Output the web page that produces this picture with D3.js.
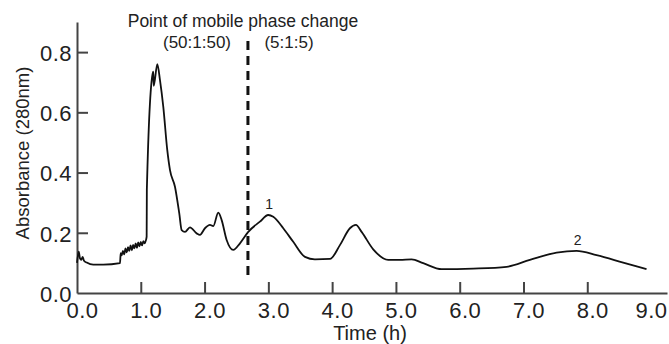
<!DOCTYPE html>
<html>
<head>
<meta charset="utf-8">
<script src="https://cdn.jsdelivr.net/npm/d3@7"></script>
<style>
  body { margin: 0; background: #fff; }
  text { font-family: "Liberation Sans", Arial, Helvetica, sans-serif; fill: #222; }
</style>
</head>
<body>
<div id="root"></div>
<script>
const SVG_WIDTH = 669;
const SVG_HEIGHT = 344;

// chromatogram trace, time (h) vs absorbance
const timeH = [
  0.00, 0.027, 0.047, 0.067, 0.089, 0.110, 0.152, 0.255, 0.412, 0.674,
  0.685, 0.70, 0.72, 0.74, 0.76, 0.78, 0.80, 0.82, 0.84, 0.86,
  0.88, 0.90, 0.92, 0.94, 0.96, 0.98, 1.00, 1.02, 1.04, 1.06,
  1.08, 1.092, 1.095, 1.187, 1.196, 1.203, 1.259, 1.301, 1.353, 1.415,
  1.458, 1.536, 1.603, 1.641, 1.693, 1.771, 1.876, 1.928, 2.006, 2.085,
  2.136, 2.215, 2.268, 2.346, 2.450, 2.555, 2.685, 2.868, 2.998, 3.077,
  3.234, 3.390, 3.574, 3.730, 3.966, 4.122, 4.279, 4.373, 4.462, 4.644,
  4.879, 5.063, 5.246, 5.428, 5.716, 6.212, 6.735, 7.100, 7.519, 7.832,
  8.146, 8.563, 8.929
];
const absorbance = [
  0.100, 0.137, 0.115, 0.110, 0.120, 0.107, 0.101, 0.094, 0.094, 0.099,
  0.132, 0.125, 0.140, 0.128, 0.148, 0.135, 0.152, 0.140, 0.158, 0.142,
  0.160, 0.148, 0.165, 0.150, 0.168, 0.155, 0.170, 0.158, 0.172, 0.165,
  0.175, 0.187, 0.342, 0.729, 0.735, 0.688, 0.760, 0.707, 0.618, 0.475,
  0.408, 0.353, 0.265, 0.209, 0.203, 0.218, 0.198, 0.193, 0.215, 0.226,
  0.222, 0.267, 0.242, 0.176, 0.143, 0.165, 0.203, 0.237, 0.259, 0.253,
  0.215, 0.170, 0.120, 0.112, 0.113, 0.159, 0.215, 0.226, 0.203, 0.145,
  0.110, 0.110, 0.112, 0.099, 0.079, 0.081, 0.087, 0.110, 0.134, 0.140,
  0.126, 0.101, 0.079
];

const xTicks = [0, 1, 2, 3, 4, 5, 6, 7, 8, 9];
const yTicks = [0, 0.2, 0.4, 0.6, 0.8];
const phaseChangeTime = 2.68;
const peakLabels = ['1', '2'];
const peakTimes = [2.998, 7.832];
const peakValues = [0.259, 0.140];

function addSvg() {
  const svg = document.createElementNS('http://www.w3.org/2000/svg', 'svg');
  svg.id = 'svg';
  svg.setAttribute('width', SVG_WIDTH);
  svg.setAttribute('height', SVG_HEIGHT);
  return svg;
}

function main() {
  const svg = d3.select('#svg');
  const xScale = d3.scaleLinear().domain([0, 9.25]).range([77, 667]);
  const yScale = d3.scaleLinear().domain([0, 0.9]).range([293, 22]);

  // x axis: labels 0..9, inward ticks only 1..8
  const gx = svg.append('g')
    .attr('transform', `translate(0,${yScale(0)})`)
    .call(d3.axisBottom(xScale).tickValues(xTicks).tickFormat(d3.format('.1f'))
      .tickSizeInner(-11).tickSizeOuter(0).tickPadding(9));
  gx.select('.domain').attr('stroke', '#444').attr('stroke-width', 2);
  gx.selectAll('.tick line').attr('stroke', '#444').attr('stroke-width', 2)
    .attr('display', (d) => (d === 0 || d === 9 ? 'none' : null));
  gx.selectAll('.tick text').attr('font-size', 22)
    .attr('dx', (d) => (d === 9 ? 0 : 5))
    .attr('letter-spacing', 0.5).style('font-family', '"Liberation Sans", Arial, sans-serif');

  // y axis
  const gy = svg.append('g')
    .attr('transform', `translate(${xScale(0)},0)`)
    .call(d3.axisLeft(yScale).tickValues(yTicks).tickFormat(d3.format('.1f'))
      .tickSizeInner(-11).tickSizeOuter(0).tickPadding(5));
  gy.select('.domain').attr('stroke', '#444').attr('stroke-width', 2);
  gy.selectAll('.tick line').attr('stroke', '#444').attr('stroke-width', 2)
    .attr('display', (d) => (d === 0 ? 'none' : null));
  gy.selectAll('.tick text').attr('font-size', 22).attr('dy', '0.38em')
    .attr('letter-spacing', 0.5).style('font-family', '"Liberation Sans", Arial, sans-serif');

  // axis titles
  svg.append('text')
    .attr('x', 370).attr('y', 340)
    .attr('text-anchor', 'middle')
    .attr('font-size', 20)
    .text('Time (h)');
  svg.append('text')
    .attr('transform', `translate(29,${153}) rotate(-90)`)
    .attr('text-anchor', 'middle')
    .attr('font-size', 18.5)
    .text('Absorbance (280nm)');

  // mobile phase change marker
  svg.append('line')
    .attr('x1', xScale(phaseChangeTime)).attr('x2', xScale(phaseChangeTime))
    .attr('y1', yScale(0.06)).attr('y2', yScale(0.846))
    .attr('stroke', '#111').attr('stroke-width', 3)
    .attr('stroke-dasharray', '9,6');
  svg.append('text')
    .attr('x', 243).attr('y', 27)
    .attr('text-anchor', 'middle')
    .attr('font-size', 17.5)
    .text('Point of mobile phase change');
  svg.append('text')
    .attr('x', 197).attr('y', 48)
    .attr('text-anchor', 'middle')
    .attr('font-size', 17)
    .text('(50:1:50)');
  svg.append('text')
    .attr('x', 289).attr('y', 48)
    .attr('text-anchor', 'middle')
    .attr('font-size', 17)
    .text('(5:1:5)');

  // trace
  const pts = timeH.map((t, i) => [t, absorbance[i]]);
  const line = d3.line()
    .x((d) => xScale(d[0]))
    .y((d) => yScale(d[1]))
    .curve(d3.curveMonotoneX);
  svg.append('path')
    .attr('d', line(pts))
    .attr('fill', 'none')
    .attr('stroke', '#111')
    .attr('stroke-width', 1.8)
    .attr('stroke-linejoin', 'round');

  // peak numbers
  svg.append('g').selectAll('text')
    .data(peakLabels)
    .join('text')
    .attr('x', (d, i) => xScale(peakTimes[i]) + 1)
    .attr('y', (d, i) => yScale(peakValues[i]) - 6)
    .attr('text-anchor', 'middle')
    .attr('font-size', 14)
    .text((d) => d);
}

const root = document.getElementById('root');
root.appendChild(addSvg());
main();
</script>
</body>
</html>
